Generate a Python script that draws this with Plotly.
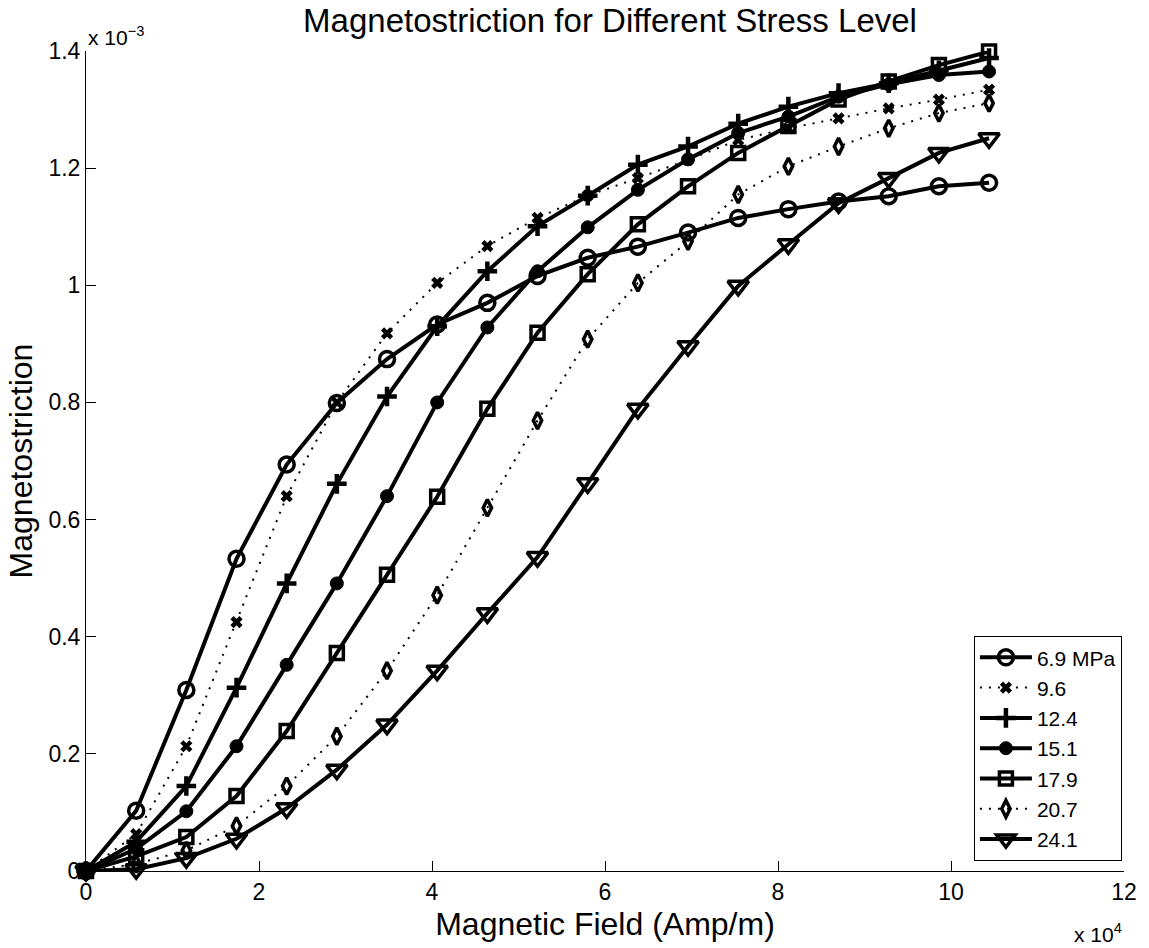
import plotly.graph_objects as go

# Magnetic field (Amp/m)
field = [0, 5800, 11600, 17400, 23200, 29000, 34800, 40600, 46400, 52200,
         58000, 63800, 69600, 75400, 81200, 87000, 92800, 98600, 104400]

# Magnetostriction (x 1e-3) per stress level
s_6_9 = [0, 0.103, 0.309, 0.533, 0.694, 0.799, 0.874, 0.933, 0.970, 1.016,
         1.047, 1.066, 1.090, 1.115, 1.130, 1.143, 1.152, 1.169, 1.175]
s_9_6 = [0, 0.063, 0.213, 0.425, 0.640, 0.800, 0.918, 1.004, 1.067, 1.115,
         1.153, 1.183, 1.214, 1.248, 1.268, 1.285, 1.302, 1.317, 1.334]
s_12_4 = [0, 0.050, 0.145, 0.313, 0.491, 0.661, 0.810, 0.930, 1.024, 1.101,
          1.153, 1.206, 1.237, 1.276, 1.305, 1.328, 1.345, 1.367, 1.388]
s_15_1 = [0, 0.038, 0.102, 0.213, 0.352, 0.491, 0.640, 0.800, 0.928, 1.024,
          1.099, 1.163, 1.215, 1.260, 1.288, 1.322, 1.343, 1.359, 1.365]
s_17_9 = [0, 0.025, 0.058, 0.128, 0.239, 0.372, 0.506, 0.639, 0.789, 0.919,
          1.019, 1.104, 1.169, 1.226, 1.272, 1.317, 1.348, 1.376, 1.399]
s_20_7 = [0, 0.012, 0.035, 0.077, 0.145, 0.230, 0.342, 0.471, 0.620, 0.769,
          0.908, 1.004, 1.075, 1.155, 1.203, 1.237, 1.268, 1.294, 1.311]
s_24_1 = [0, 0.003, 0.022, 0.055, 0.107, 0.173, 0.250, 0.342, 0.440, 0.536,
          0.662, 0.789, 0.896, 0.999, 1.070, 1.140, 1.183, 1.226, 1.251]

names = ["6.9 MPa", "9.6", "12.4", "15.1", "17.9", "20.7", "24.1"]
series = [s_6_9, s_9_6, s_12_4, s_15_1, s_17_9, s_20_7, s_24_1]

x_tickvals = [0, 20000, 40000, 60000, 80000, 100000, 120000]
x_ticktext = ["0", "2", "4", "6", "8", "10", "12"]
y_tickvals = [0, 0.2e-3, 0.4e-3, 0.6e-3, 0.8e-3, 1.0e-3, 1.2e-3, 1.4e-3]
y_ticktext = ["0", "0.2", "0.4", "0.6", "0.8", "1", "1.2", "1.4"]

styles = [
    dict(symbol="circle-open", size=15, dash="solid", lw=4, mlw=3.5),
    dict(symbol="x-thin-open", size=9, dash="2px,7px", lw=2, mlw=4.5),
    dict(symbol="cross-thin-open", size=14, dash="solid", lw=4, mlw=4.5),
    dict(symbol="circle", size=13, dash="solid", lw=4, mlw=1),
    dict(symbol="square-open", size=13, dash="solid", lw=4, mlw=3.5),
    dict(symbol="diamond-tall-open", size=12, dash="2px,7px", lw=2, mlw=3.5),
    dict(symbol="triangle-down-open", size=18, dash="solid", lw=4, mlw=3.5),
]

FONT = "Liberation Sans, Arial, Helvetica, sans-serif"

fig = go.Figure()
for name, vals, st in zip(names, series, styles):
    fig.add_trace(go.Scatter(
        x=field, y=[v * 1e-3 for v in vals], name=name, mode="lines+markers",
        cliponaxis=False,
        line=dict(color="black", width=st["lw"], dash=st["dash"]),
        marker=dict(symbol=st["symbol"], size=st["size"], color="black",
                    line=dict(color="black", width=st["mlw"])),
    ))

fig.update_layout(
    width=1149, height=948,
    margin=dict(l=86, r=15, t=51, b=75),
    paper_bgcolor="white", plot_bgcolor="white",
    font=dict(family=FONT, color="black", size=23),
    title=dict(text="Magnetostriction for Different Stress Level",
               x=(86 + 1134) / 2 / 1149, xanchor="center",
               y=1 - 20 / 948, yanchor="middle", yref="container",
               font=dict(size=33, family=FONT, color="black")),
    showlegend=True,
    legend=dict(x=0.998, y=0.012, xanchor="right", yanchor="bottom",
                bgcolor="white", bordercolor="black", borderwidth=1,
                font=dict(size=21, family=FONT, color="black"),
                itemwidth=52, tracegroupgap=0),
    xaxis=dict(range=[0, 120000], tickvals=x_tickvals, ticktext=x_ticktext,
               showgrid=False, zeroline=False, showline=True, linecolor="black",
               linewidth=1, ticks="inside", ticklen=10, tickwidth=1,
               tickcolor="black", tickfont=dict(size=23),
               title=dict(text="Magnetic Field (Amp/m)", font=dict(size=32),
                          standoff=9)),
    yaxis=dict(range=[0, 1.4e-3], tickvals=y_tickvals, ticktext=y_ticktext,
               showgrid=False, zeroline=False, showline=True, linecolor="black",
               linewidth=1, ticks="inside", ticklen=10, tickwidth=1,
               tickcolor="black", tickfont=dict(size=23),
               title=dict(text="Magnetostriction", font=dict(size=32),
                          standoff=6)),
    annotations=[
        dict(text="x 10<sup>−3</sup>", xref="paper", yref="paper", x=0, y=1.0,
             xanchor="left", yanchor="bottom", showarrow=False,
             font=dict(size=21, family=FONT, color="black")),
        dict(text="x 10<sup>4</sup>", xref="paper", yref="paper", x=1.0, y=-0.094,
             xanchor="right", yanchor="bottom", showarrow=False,
             font=dict(size=21, family=FONT, color="black")),
    ],
)

fig.write_html("out.html")
